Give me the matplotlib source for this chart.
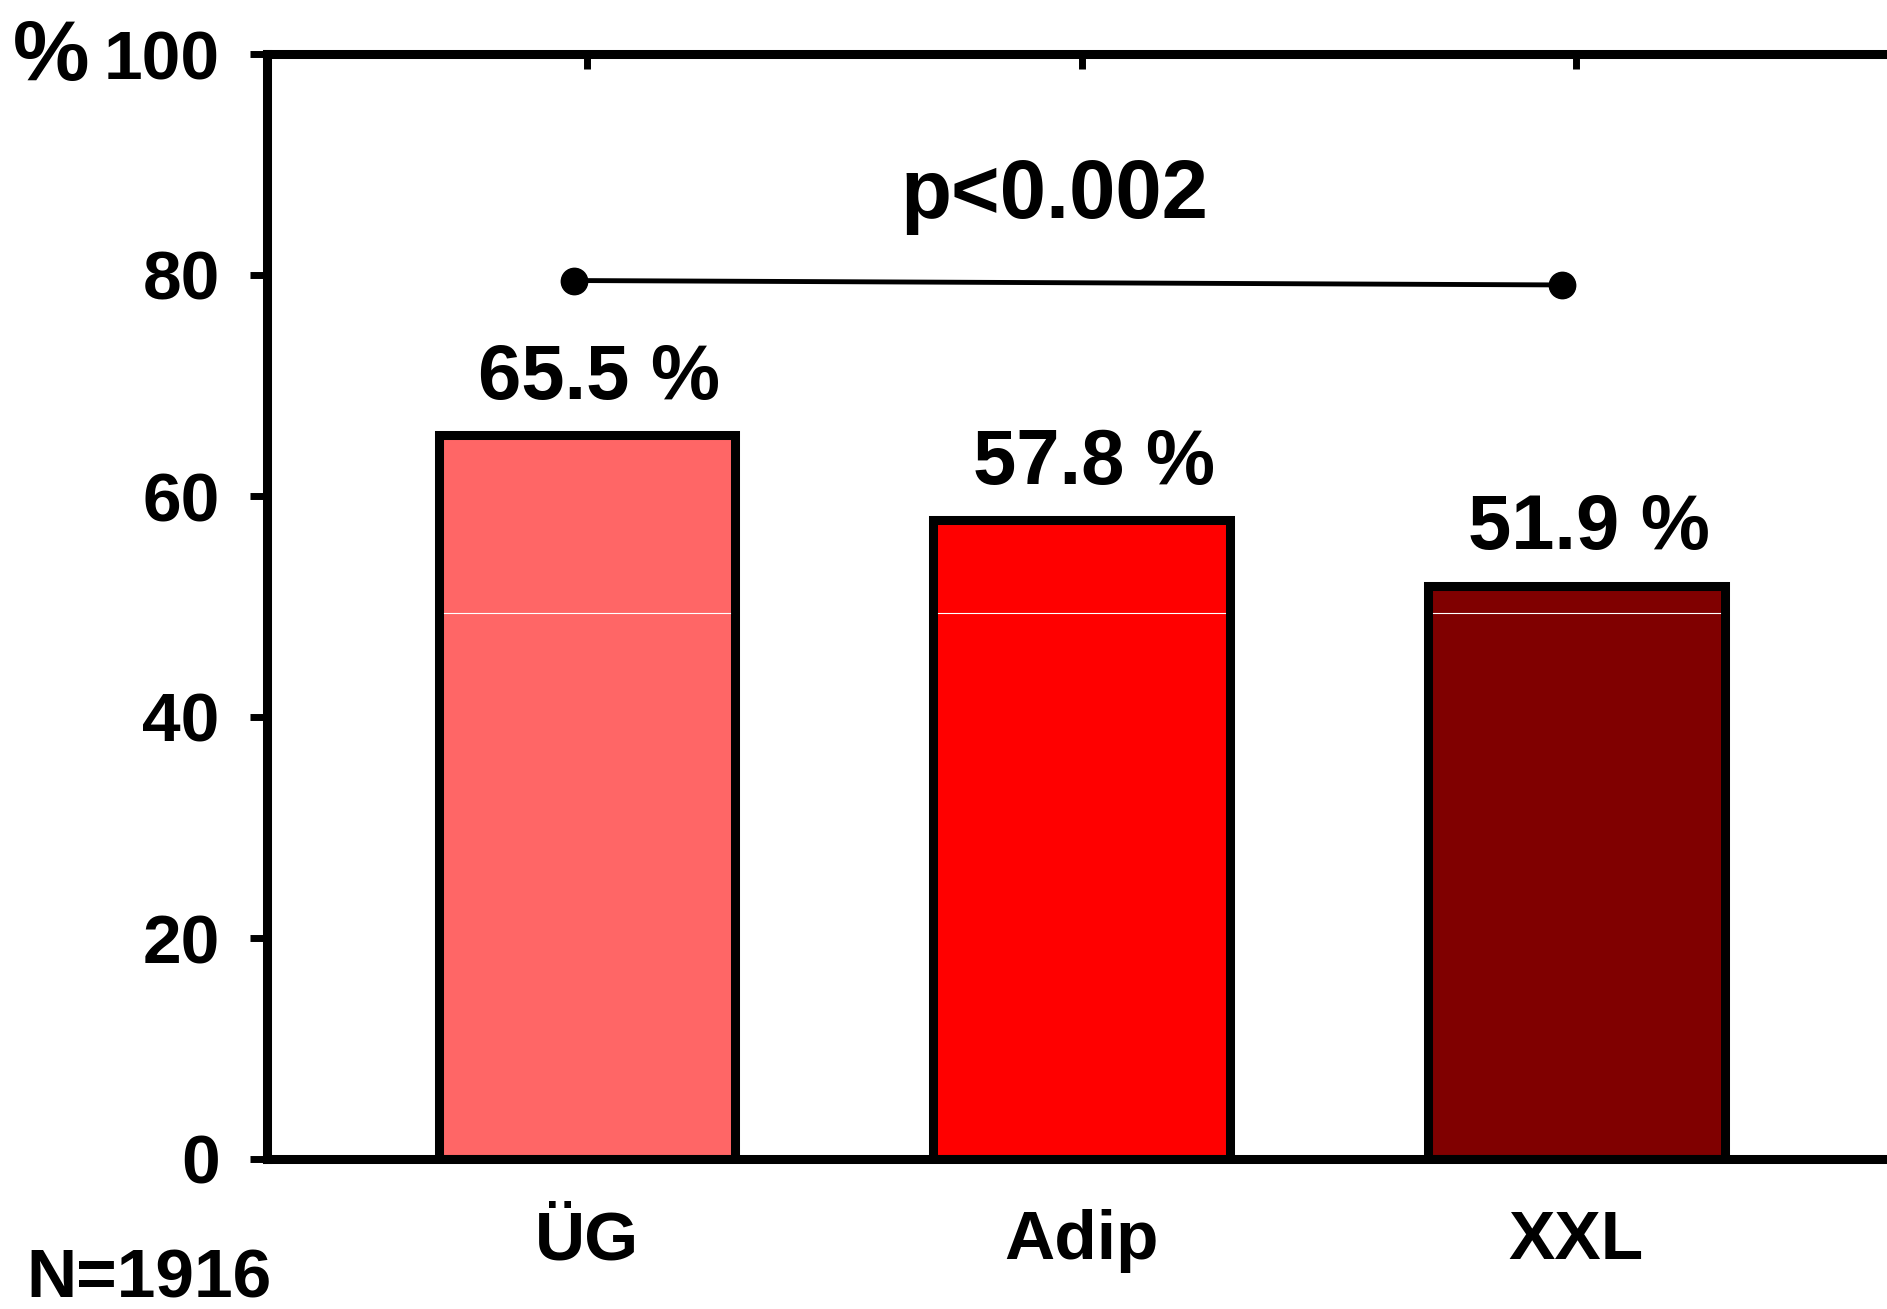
import numpy as np
import matplotlib
matplotlib.use('Agg')
import matplotlib.pyplot as plt

plt.rcParams['font.family'] = ['Liberation Sans', 'DejaVu Sans']
plt.rcParams['font.weight'] = 'bold'

# data
groups = ['ÜG', 'Adip', 'XXL']
values = [65.5, 57.8, 51.9]
colors = ['#FF6666', '#FF0000', '#800000']
labels = ['65.5 %', '57.8 %', '51.9 %']
yticks = [0, 20, 40, 60, 80, 100]
sig_x = [-0.026, 1.971]      # ends of the bracket
sig_y = [79.5, 79.1]
p_text = 'p<0.002'
n_text = 'N=1916'

W, H = 1887, 1309
fig = plt.figure(figsize=(W / 100, H / 100), dpi=100)
ax = fig.add_axes([267 / W, 150 / H, (W - 267) / W, 1105 / H])

x = np.arange(len(groups))
ax.bar(x, values, width=0.6, color=colors, edgecolor='black', linewidth=6.5, zorder=2)
# thin white line seen inside every bar
for xi, v in zip(x, values):
    ax.plot([xi - 0.29, xi + 0.29], [49.4, 49.4], color='white', lw=0.8, zorder=3)

for xi, v, lab in zip(x, values, labels):
    ax.text(xi + 0.025, v + 3.3, lab, ha='center', va='baseline', fontsize=56, fontweight='bold')

ax.plot(sig_x, sig_y, color='black', lw=3.5, marker='o', ms=19, zorder=4)
ax.text(0.946, 85.2, p_text, ha='center', va='baseline', fontsize=60, fontweight='bold')

ax.set_xlim(-0.647, -0.647 + (W - 267) / 494.6)
ax.set_ylim(0, 100)
ax.set_yticks(yticks)
ax.set_yticklabels([str(t) for t in yticks], fontsize=50, fontweight='bold')
ax.set_xticks(x)
ax.set_xticklabels([])
ax.tick_params(axis='y', direction='out', length=12, width=5, pad=22)
ax.tick_params(axis='x', bottom=False, top=True, direction='in', length=11, width=5)

for s in ['left', 'bottom', 'top']:
    ax.spines[s].set_linewidth(6.5)
ax.spines['right'].set_visible(False)

for xi, g in zip(x, groups):
    ax.text(xi, -0.0905, g, transform=ax.get_xaxis_transform(), ha='center', va='baseline',
            fontsize=50, fontweight='bold')

fig.text(13 / W, 1 - 80 / H, '%', ha='left', va='baseline', fontsize=62, fontweight='bold')
fig.text(26 / W, 12 / H, n_text, ha='left', va='baseline', fontsize=50, fontweight='bold')

fig.savefig('out.png', dpi=100)
